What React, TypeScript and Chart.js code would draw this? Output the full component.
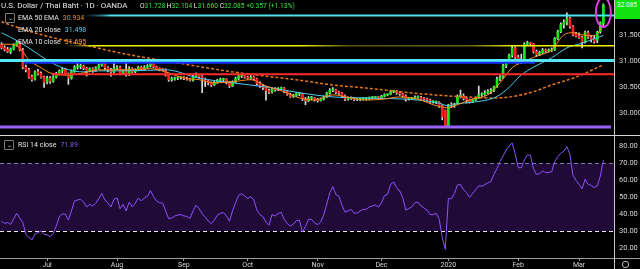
import React, { useEffect, useRef } from 'react';
import { Chart, registerables } from 'chart.js';
Chart.register(...registerables);
Chart.defaults.font.family = 'Roboto, sans-serif';

// ---------------- DATA ----------------
const START_DATE = '2019-06-10';
const BAR_COUNT = 199;
const FUTURE_SLOTS = 3;

const OPEN = [31.32,31.26,31.23,31.18,31.24,31.31,31.36,31.22,30.89,30.84,30.71,30.66,30.80,30.77,30.70,30.60,30.68,30.62,30.70,30.76,30.82,30.85,30.76,30.68,30.81,30.89,30.90,30.91,30.87,30.82,30.86,30.83,30.88,30.93,30.98,30.88,30.84,30.80,30.87,30.89,30.77,30.82,30.75,30.86,30.80,30.84,30.89,30.86,30.89,30.91,30.96,30.90,30.86,30.85,30.84,30.74,30.65,30.66,30.68,30.69,30.69,30.67,30.66,30.64,30.71,30.75,30.71,30.66,30.63,30.59,30.55,30.60,30.64,30.65,30.66,30.60,30.53,30.61,30.67,30.72,30.73,30.70,30.68,30.70,30.67,30.58,30.53,30.50,30.44,30.41,30.48,30.46,30.48,30.49,30.42,30.37,30.33,30.35,30.38,30.38,30.28,30.25,30.30,30.30,30.27,30.25,30.28,30.32,30.39,30.45,30.46,30.41,30.40,30.34,30.28,30.29,30.30,30.27,30.27,30.28,30.29,30.29,30.30,30.31,30.32,30.30,30.33,30.36,30.37,30.42,30.43,30.40,30.38,30.34,30.27,30.28,30.29,30.31,30.31,30.29,30.28,30.26,30.22,30.22,30.22,30.15,30.06,29.75,30.17,30.15,30.20,30.33,30.34,30.29,30.26,30.22,30.26,30.30,30.36,30.37,30.40,30.43,30.44,30.51,30.66,30.70,30.92,30.99,31.12,31.26,31.08,30.99,31.04,31.33,31.36,31.34,31.19,31.13,31.17,31.22,31.20,31.21,31.23,31.44,31.57,31.71,31.75,31.83,31.67,31.53,31.49,31.46,31.37,31.55,31.46,31.44,31.41,31.57,31.728];
const HIGH = [31.36,31.30,31.27,31.26,31.34,31.40,31.38,31.25,30.93,30.87,30.74,30.82,30.85,30.80,30.72,30.72,30.71,30.73,30.79,30.84,30.88,30.87,30.78,30.84,30.92,30.98,30.95,30.93,30.89,30.88,30.88,30.90,30.95,31.00,31.00,30.90,30.87,30.99,30.92,30.91,30.84,30.98,30.90,30.88,30.86,30.91,30.91,30.92,30.94,30.97,30.97,30.91,30.88,30.87,30.86,30.76,30.70,30.70,30.71,30.71,30.71,30.70,30.68,30.74,30.78,30.76,30.73,30.68,30.65,30.61,30.62,30.66,30.68,30.68,30.67,30.62,30.63,30.70,30.74,30.76,30.75,30.72,30.73,30.72,30.68,30.61,30.56,30.52,30.47,30.50,30.50,30.50,30.51,30.50,30.44,30.39,30.37,30.40,30.40,30.39,30.31,30.33,30.33,30.31,30.29,30.30,30.34,30.41,30.48,30.50,30.47,30.43,30.41,30.36,30.32,30.32,30.31,30.29,30.30,30.31,30.31,30.32,30.33,30.33,30.33,30.35,30.38,30.38,30.45,30.45,30.44,30.42,30.39,30.36,30.31,30.31,30.34,30.34,30.33,30.31,30.30,30.28,30.25,30.24,30.23,30.17,30.07,30.18,30.21,30.20,30.36,30.45,30.38,30.31,30.28,30.28,30.32,30.53,30.40,30.44,30.46,30.48,30.53,30.70,30.73,30.95,31.01,31.14,31.30,31.28,31.12,31.14,31.36,31.39,31.37,31.35,31.22,31.20,31.25,31.24,31.24,31.26,31.46,31.60,31.74,31.80,31.93,31.85,31.69,31.56,31.55,31.48,31.58,31.58,31.50,31.50,31.58,31.76,32.104];
const LOW = [31.24,31.20,31.17,31.15,31.22,31.29,31.20,30.86,30.80,30.68,30.62,30.64,30.74,30.68,30.50,30.57,30.58,30.60,30.68,30.74,30.78,30.74,30.56,30.66,30.79,30.85,30.86,30.84,30.72,30.80,30.79,30.81,30.86,30.91,30.84,30.80,30.72,30.78,30.84,30.74,30.75,30.72,30.73,30.78,30.78,30.82,30.84,30.84,30.87,30.89,30.88,30.84,30.82,30.82,30.72,30.62,30.62,30.64,30.65,30.66,30.65,30.64,30.62,30.62,30.69,30.68,30.40,30.52,30.55,30.52,30.54,30.58,30.61,30.62,30.57,30.50,30.52,30.59,30.65,30.69,30.68,30.66,30.66,30.64,30.55,30.50,30.46,30.26,30.38,30.39,30.43,30.44,30.46,30.40,30.35,30.31,30.31,30.33,30.34,30.25,30.17,30.23,30.26,30.24,30.22,30.24,30.26,30.31,30.37,30.42,30.38,30.37,30.31,30.25,30.26,30.27,30.25,30.25,30.25,30.26,30.26,30.27,30.28,30.29,30.28,30.29,30.32,30.34,30.36,30.40,30.37,30.35,30.31,30.24,30.26,30.27,30.28,30.29,30.27,30.26,30.24,30.19,30.20,30.19,30.12,29.88,29.73,29.73,30.12,30.12,30.18,30.30,30.26,30.20,30.20,30.21,30.25,30.29,30.33,30.35,30.38,30.38,30.42,30.50,30.63,30.68,30.88,30.97,31.08,31.05,30.95,30.96,31.02,31.30,31.30,31.16,31.10,31.11,31.15,31.17,31.18,31.19,31.21,31.42,31.55,31.64,31.70,31.64,31.49,31.47,31.44,31.26,31.35,31.44,31.37,31.35,31.36,31.54,31.660];
const CLOSE = [31.26,31.22,31.19,31.24,31.31,31.37,31.22,30.89,30.84,30.70,30.65,30.80,30.77,30.70,30.60,30.68,30.62,30.70,30.76,30.82,30.85,30.76,30.68,30.81,30.89,30.90,30.91,30.87,30.82,30.86,30.83,30.88,30.93,30.98,30.88,30.84,30.80,30.87,30.89,30.77,30.82,30.75,30.86,30.80,30.84,30.89,30.86,30.89,30.91,30.96,30.90,30.86,30.85,30.84,30.74,30.65,30.66,30.68,30.69,30.69,30.67,30.66,30.64,30.71,30.75,30.71,30.66,30.63,30.59,30.55,30.60,30.64,30.65,30.66,30.60,30.53,30.61,30.67,30.72,30.73,30.70,30.68,30.70,30.67,30.58,30.53,30.50,30.44,30.41,30.48,30.46,30.48,30.49,30.42,30.37,30.33,30.35,30.38,30.38,30.28,30.25,30.30,30.30,30.27,30.25,30.28,30.32,30.39,30.45,30.46,30.41,30.40,30.34,30.28,30.29,30.30,30.27,30.27,30.28,30.29,30.29,30.30,30.31,30.32,30.30,30.33,30.36,30.37,30.42,30.43,30.40,30.38,30.34,30.27,30.28,30.29,30.31,30.31,30.29,30.28,30.26,30.22,30.22,30.22,30.15,29.94,29.75,30.17,30.15,30.18,30.33,30.34,30.29,30.26,30.22,30.26,30.30,30.36,30.37,30.40,30.43,30.44,30.51,30.66,30.70,30.92,30.99,31.12,31.26,31.08,30.98,31.04,31.33,31.36,31.34,31.19,31.13,31.17,31.22,31.20,31.21,31.23,31.44,31.57,31.71,31.75,31.83,31.67,31.51,31.49,31.46,31.37,31.55,31.47,31.42,31.38,31.56,31.74,32.085];

const RSI = [35.9,34.7,35.1,34.1,37.4,40.6,37.8,35.1,28.4,26.3,24.9,28.4,29.2,30.2,28.2,28.0,26.8,28.8,33.1,38.4,40.4,40.0,36.6,42.0,47.8,48.4,48.8,47.2,44.3,45.9,44.9,46.5,49.2,52.3,48.4,46.8,44.3,48.8,49.6,43.3,45.9,42.0,47.2,44.5,46.5,49.6,47.8,49.6,50.6,53.9,50.4,47.8,46.8,46.6,42.0,37.4,37.8,39.0,39.6,39.8,39.0,38.8,37.6,42.0,45.3,43.3,40.4,38.4,36.1,34.5,36.6,39.4,40.6,41.0,39.0,35.9,42.0,46.8,51.2,52.1,50.8,49.2,50.4,48.4,42.5,39.8,38.6,35.5,33.5,39.8,39.0,40.4,41.2,37.1,34.5,33.1,34.1,36.3,36.6,29.6,32.9,37.0,37.0,34.9,33.9,35.5,39.6,45.9,52.7,56.3,51.6,50.6,45.3,41.3,42.0,42.9,40.6,40.8,42.0,42.9,42.9,44.3,44.9,45.5,44.3,46.8,51.0,51.7,57.6,59.0,55.7,53.7,49.8,42.5,43.3,44.5,46.8,47.2,44.9,43.7,42.5,39.8,39.8,40.6,37.0,26.3,19.4,49.2,49.2,52.3,57.2,57.6,54.5,52.7,50.0,52.3,54.5,56.8,56.6,57.4,58.6,59.2,63.5,66.8,71.0,74.3,77.8,80.2,82.0,75.3,67.4,67.4,71.9,74.9,74.7,66.8,63.5,63.9,65.5,64.5,64.5,65.1,70.8,73.9,75.9,77.2,79.8,75.3,62.9,60.0,57.6,55.1,60.6,57.6,57.0,55.7,56.7,62.5,71.89];

// EMA lines as [bar index, value] points
const EMA50_PTS: [number, number][] = [[0,31.76],[8,31.60],[16,31.47],[27,31.32],[41,31.14],[54,31.01],[76,30.80],[98,30.64],[109,30.55],[120,30.49],[131,30.42],[142,30.36],[153,30.32],[161,30.30],[166,30.31],[175,30.42],[181,30.55],[189,30.70],[198,30.934]];
const EMA20_PTS: [number, number][] = [[0,31.55],[6,31.37],[11,31.18],[16,30.99],[22,30.84],[27,30.80],[32,30.82],[42,30.82],[54,30.84],[65,30.68],[76,30.59],[87,30.51],[98,30.40],[109,30.32],[120,30.30],[137,30.26],[144,30.20],[147,30.15],[150,30.19],[155,30.22],[162,30.30],[166,30.45],[171,30.74],[175,30.89],[181,31.07],[186,31.26],[191,31.35],[198,31.498]];
const EMA10_PTS: [number, number][] = [[0,31.33],[3,31.33],[6,31.26],[9,31.03],[13,30.88],[16,30.78],[22,30.74],[27,30.78],[32,30.84],[42,30.84],[49,30.86],[54,30.80],[60,30.68],[65,30.65],[70,30.59],[76,30.61],[82,30.65],[87,30.53],[93,30.42],[98,30.30],[103,30.26],[109,30.36],[115,30.30],[120,30.26],[126,30.28],[131,30.32],[138,30.26],[142,30.17],[147,30.11],[150,30.17],[155,30.28],[160,30.36],[164,30.59],[168,30.88],[173,31.03],[177,31.12],[181,31.22],[185,31.51],[188,31.55],[191,31.51],[195,31.49],[198,31.695]];

const PRICE_TICKS = [30, 30.5, 31, 31.5];
const RSI_TICKS = [20, 30, 40, 50, 60, 70, 80];
const MONTH_NAMES: Record<number, string> = { 6: 'Jul', 7: 'Aug', 8: 'Sep', 9: 'Oct', 10: 'Nov', 11: 'Dec', 0: '2020', 1: 'Feb', 2: 'Mar' };

// Horizontal drawings: price level, from/to bar index
const H_LINES = [
  { price: 31.88, from: 25, to: 201, color: '#4fe3f2', width: 2, fade: true },
  { price: 31.30, from: 19, to: 201, color: '#f5f000', width: 1.5, fade: true, dim: true },
  { price: 31.02, from: 0, to: 201, color: '#56e6f5', width: 3 },
  { price: 30.975, from: 8, to: 175, color: '#1430ff', width: 2 },
  { price: 30.755, from: 17, to: 201, color: '#ff2b2b', width: 2 },
  { price: 29.745, from: 0, to: 200, color: '#9a63ff', width: 3 },
];

// ---------------- helpers ----------------
function buildDates(): string[] {
  const out: string[] = [];
  const d = new Date(START_DATE + 'T12:00:00Z');
  while (out.length < BAR_COUNT + FUTURE_SLOTS) {
    const wd = d.getUTCDay();
    if (wd !== 0 && wd !== 6) out.push(d.toISOString().slice(0, 10));
    d.setUTCDate(d.getUTCDate() + 1);
  }
  return out;
}
const DATES = buildDates();
const MONTH_LABELS: string[] = DATES.map((s, i) => {
  if (i === 0) return '';
  const m = Number(s.slice(5, 7)) - 1;
  const pm = Number(DATES[i - 1].slice(5, 7)) - 1;
  return m !== pm ? (MONTH_NAMES[m] || '') : '';
});
function sparse(pts: [number, number][]) {
  const arr: (number | null)[] = DATES.map(() => null);
  pts.forEach(([i, v]) => { arr[i] = v; });
  return arr;
}

const GREEN = '#16e816';
const RED = '#ff1f1f';

const fitY = (s: any) => { s.width = 26; s.paddingTop = 0; s.paddingBottom = 0; };

export default function App() {
  const mainRef = useRef<HTMLCanvasElement>(null);
  const rsiRef = useRef<HTMLCanvasElement>(null);

  useEffect(() => {
    const xScaleCommon = {
      type: 'category' as const,
      labels: DATES,
      offset: true,
    };

    const drawingsPlugin = {
      id: 'drawings',
      afterDatasetsDraw(chart: any) {
        const { ctx, chartArea, scales } = chart;
        const xs = scales.x, ys = scales.y;
        ctx.save();
        ctx.beginPath();
        ctx.rect(chartArea.left, chartArea.top, chartArea.right - chartArea.left, chartArea.bottom - chartArea.top);
        ctx.clip();
        H_LINES.forEach((l) => {
          const y = ys.getPixelForValue(l.price);
          const x0 = Math.max(chartArea.left, xs.getPixelForValue(l.from) - 1.5);
          const x1 = Math.min(chartArea.right, xs.getPixelForValue(l.to) + 1.5);
          let stroke: any = l.color;
          if (l.fade) {
            const g = ctx.createLinearGradient(x0, 0, x1, 0);
            const span = x1 - x0;
            g.addColorStop(0, 'rgba(0,0,0,0)');
            g.addColorStop(Math.min(1, 35 / span), l.color);
            if (l.dim) {
              g.addColorStop((300 - x0) / span, l.color);
              g.addColorStop((350 - x0) / span, '#55520e');
              g.addColorStop((470 - x0) / span, '#6a6610');
              g.addColorStop((515 - x0) / span, l.color);
            }
            g.addColorStop(1, l.color);
            stroke = g;
          }
          ctx.strokeStyle = stroke;
          ctx.lineWidth = l.width;
          ctx.beginPath();
          ctx.moveTo(x0, y);
          ctx.lineTo(x1, y);
          ctx.stroke();
        });
        // ellipse highlight around the last candle
        const cx = xs.getPixelForValue(BAR_COUNT - 1);
        const cy = ys.getPixelForValue(31.94);
        const ry = Math.abs(ys.getPixelForValue(31.94) - ys.getPixelForValue(32.22));
        ctx.strokeStyle = '#e03ce6';
        ctx.lineWidth = 2;
        ctx.beginPath();
        ctx.ellipse(cx, cy, 7.5, ry, 0, 0, Math.PI * 2);
        ctx.stroke();
        ctx.restore();
      },
    };

    const main = new Chart(mainRef.current!, {
      type: 'bar',
      data: {
        labels: DATES,
        datasets: [
          {
            type: 'line', label: 'EMA 10', data: sparse(EMA10_PTS), borderColor: '#ff8a1c', borderWidth: 1,
            pointRadius: 0, spanGaps: true, cubicInterpolationMode: 'monotone', order: 0,
          } as any,
          {
            type: 'line', label: 'EMA 20', data: sparse(EMA20_PTS), borderColor: '#4ccbf0', borderWidth: 1,
            pointRadius: 0, spanGaps: true, cubicInterpolationMode: 'monotone', order: 0,
          } as any,
          {
            type: 'line', label: 'EMA 50', data: sparse(EMA50_PTS), borderColor: '#e8771a', borderWidth: 1.5,
            borderDash: [3, 2], pointRadius: 0, spanGaps: true, cubicInterpolationMode: 'monotone', order: 0,
          } as any,
          {
            type: 'bar', label: 'body', data: OPEN.map((o, i) => [o, CLOSE[i]]) as any,
            backgroundColor: OPEN.map((o, i) => (CLOSE[i] >= o ? GREEN : RED)),
            barThickness: 2, grouped: false, minBarLength: 1, order: 1, borderWidth: 0,
          } as any,
          {
            type: 'bar', label: 'wick', data: LOW.map((l, i) => [l, HIGH[i]]) as any,
            backgroundColor: '#dcdcdc', barThickness: 1, grouped: false, order: 2, borderWidth: 0,
          } as any,
        ],
      },
      options: {
        responsive: false,
        maintainAspectRatio: false,
        animation: false,
        devicePixelRatio: 1,
        layout: { padding: 0, autoPadding: false },
        plugins: { legend: { display: false }, tooltip: { enabled: false } },
        events: [],
        scales: {
          x: { ...xScaleCommon, display: false, grid: { display: false },
            afterFit: (s: any) => { s.paddingLeft = 0; s.paddingRight = 0; } } as any,
          y: {
            position: 'right',
            min: 29.59,
            max: 32.178,
            afterFit: fitY,
            afterBuildTicks: (s: any) => { s.ticks = PRICE_TICKS.map((v) => ({ value: v })); },
            grid: { display: false, drawTicks: false },
            border: { display: false },
            ticks: { color: '#d4d4d4', font: { size: 7.5 }, padding: 5, callback: (v: any) => Number(v).toFixed(3) },
          } as any,
        },
      },
      plugins: [drawingsPlugin],
    });

    const rsiBand = {
      id: 'rsiBand',
      beforeDatasetsDraw(chart: any) {
        const { ctx, chartArea, scales } = chart;
        const y70 = scales.y.getPixelForValue(70);
        const y30 = scales.y.getPixelForValue(30);
        ctx.save();
        ctx.fillStyle = '#200a37';
        ctx.fillRect(chartArea.left, y70, chartArea.right - chartArea.left, y30 - y70);
        ctx.setLineDash([4, 3]);
        ctx.lineWidth = 1;
        ctx.strokeStyle = '#86759f';
        ctx.beginPath(); ctx.moveTo(chartArea.left, Math.round(y70) + 0.5); ctx.lineTo(chartArea.right, Math.round(y70) + 0.5); ctx.stroke();
        ctx.strokeStyle = '#e8e8e8';
        ctx.beginPath(); ctx.moveTo(chartArea.left, Math.round(y30) + 0.5); ctx.lineTo(chartArea.right, Math.round(y30) + 0.5); ctx.stroke();
        ctx.restore();
      },
    };

    const rsi = new Chart(rsiRef.current!, {
      type: 'line',
      data: {
        labels: DATES,
        datasets: [
          { label: 'RSI', data: RSI, borderColor: '#8c52ff', borderWidth: 1, pointRadius: 0, tension: 0 },
        ],
      },
      options: {
        responsive: false,
        maintainAspectRatio: false,
        animation: false,
        devicePixelRatio: 1,
        layout: { padding: 0, autoPadding: false },
        plugins: { legend: { display: false }, tooltip: { enabled: false } },
        events: [],
        scales: {
          x: {
            ...xScaleCommon,
            afterFit: (s: any) => { s.height = 11; s.paddingLeft = 0; s.paddingRight = 0; },
            grid: {
              display: true, drawOnChartArea: false, drawTicks: true, tickLength: 3, offset: false,
              color: (c: any) => (MONTH_LABELS[c.index] ? '#9a9a9a' : 'rgba(0,0,0,0)'),
            },
            border: { display: false },
            ticks: {
              autoSkip: false, maxRotation: 0, minRotation: 0, padding: 0,
              color: '#d4d4d4', font: { size: 7 },
              callback: (_v: any, i: number) => MONTH_LABELS[i] || '',
            },
          } as any,
          y: {
            position: 'right',
            min: 14.3,
            max: 86.06,
            afterFit: fitY,
            afterBuildTicks: (s: any) => { s.ticks = RSI_TICKS.map((v) => ({ value: v })); },
            grid: { display: false, drawTicks: false },
            border: { display: false },
            ticks: { color: '#d4d4d4', font: { size: 7.5 }, padding: 5, callback: (v: any) => Number(v).toFixed(2) },
          } as any,
        },
      },
      plugins: [rsiBand],
    });

    return () => { main.destroy(); rsi.destroy(); };
  }, []);

  const txt: React.CSSProperties = { position: 'absolute', fontSize: 7, lineHeight: '7px', whiteSpace: 'nowrap', color: '#e6e6e6' };
  const box: React.CSSProperties = {
    position: 'absolute', width: 8, height: 8, border: '1px solid #7a7a7a', borderRadius: 1,
    color: '#ddd', fontSize: 6, lineHeight: '7px', textAlign: 'center', background: '#000',
  };
  const g = { color: '#3be23b' };
  const val = (c: string): React.CSSProperties => ({ color: c, marginLeft: 4 });

  return (
    <div style={{ position: 'absolute', left: 0, top: 0, width: 640, height: 269, background: '#000', overflow: 'hidden', fontFamily: 'Roboto, sans-serif' }}>
      <canvas ref={mainRef} width={640} height={135} style={{ position: 'absolute', left: 0, top: 0 }} />
      <canvas ref={rsiRef} width={640} height={133} style={{ position: 'absolute', left: 0, top: 136 }} />
      {/* panel separators and axis lines */}
      <div style={{ position: 'absolute', left: 0, top: 135, width: 640, height: 1, background: '#d8d8d8' }} />
      <div style={{ position: 'absolute', left: 0, top: 258, width: 640, height: 1, background: '#9c9c9c' }} />
      <div style={{ position: 'absolute', left: 614, top: 0, width: 1, height: 269, background: '#c8c8c8' }} />
      {/* last price label */}
      <div style={{ position: 'absolute', left: 615, top: 0, width: 25, height: 19, background: '#0fe20f' }} />
      <div style={{ ...txt, left: 617, top: 2, color: '#f2fff2', fontSize: 6.5 }}>32.085</div>
      {/* title row */}
      <div style={{ ...txt, left: 1, top: 2, fontSize: 8, lineHeight: '8px' }}>U.S. Dollar / Thai Baht · 1D · OANDA</div>
      <div style={{ ...txt, left: 140, top: 2.5, fontSize: 6.7 }}>
        O<span style={g}>31.728</span> H<span style={g}>32.104</span> L<span style={g}>31.660</span> C<span style={g}>32.085</span> <span style={g}>+0.357 (+1.13%)</span>
      </div>
      {/* indicator legend */}
      <div style={{ ...box, left: 5, top: 13 }}>⌄</div>
      <div style={{ ...txt, left: 18, top: 15 }}>EMA 50 EMA<span style={val('#f08a24')}>30.934</span></div>
      <div style={{ ...txt, left: 18, top: 27 }}>EMA 20 close<span style={val('#4fd3f2')}>31.498</span></div>
      <div style={{ ...txt, left: 18, top: 39 }}>EMA 10 close<span style={val('#f0a030')}>31.695</span></div>
      {/* RSI legend */}
      <div style={{ ...box, left: 4, top: 140 }}>⌄</div>
      <div style={{ ...txt, left: 18, top: 142 }}>RSI 14 close<span style={val('#8a5cf0')}>71.89</span></div>
      {/* settings icon */}
      <div style={{ position: 'absolute', left: 622, top: 261, width: 5, height: 5, border: '1px solid #bbb', borderRadius: 3 }} />
    </div>
  );
}
